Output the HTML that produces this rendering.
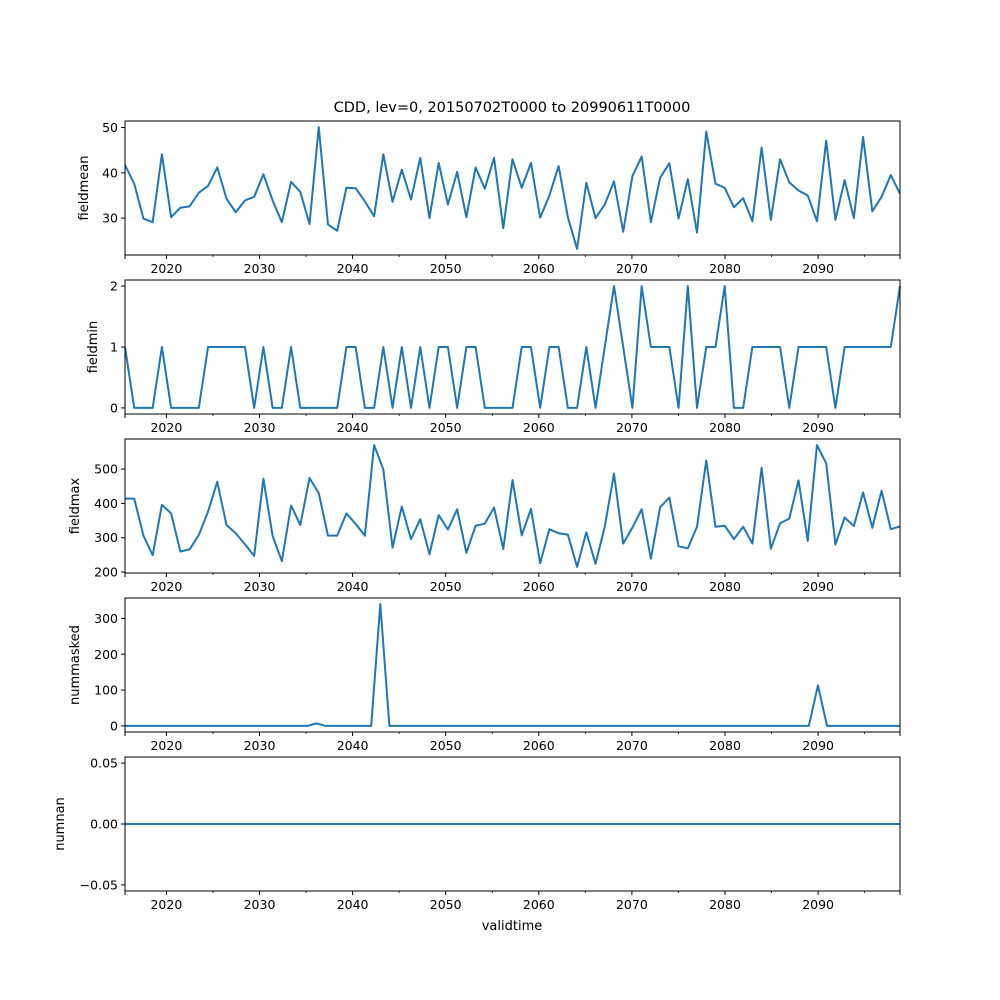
<!DOCTYPE html>
<html><head><meta charset="utf-8"><style>
html,body{margin:0;padding:0;background:#fff;width:1000px;height:1000px;overflow:hidden}
svg text{font-family:"DejaVu Sans","Liberation Sans",sans-serif;fill:#000}
</style></head><body>
<svg id="chart" width="1000" height="1000" xmlns="http://www.w3.org/2000/svg">
<text x="512" y="112" font-size="14.5" text-anchor="middle">CDD, lev=0, 20150702T0000 to 20990611T0000</text>
<text x="512" y="930" font-size="13" text-anchor="middle">validtime</text>
</svg>
<script>
const fieldmean=[41.7,37.6,29.9,29.1,44.1,30.2,32.3,32.6,35.6,37.1,41.2,34.3,31.3,33.9,34.7,39.7,33.9,29.1,38.0,35.8,28.7,50.1,28.6,27.2,36.7,36.6,33.7,30.4,44.1,33.6,40.7,34.1,43.3,30.0,42.2,33.0,40.2,30.2,41.2,36.5,43.3,27.8,43.0,36.7,42.2,30.1,35.0,41.5,30.2,23.2,37.8,30.0,33.0,38.1,27.0,39.3,43.6,29.1,38.9,42.1,29.9,38.6,26.8,49.1,37.6,36.7,32.4,34.4,29.3,45.6,29.6,43.0,37.9,36.1,35.0,29.3,47.1,29.6,38.4,30.0,47.9,31.5,34.7,39.5,35.4];
const fieldmin=[1,0,0,0,1,0,0,0,0,1,1,1,1,1,0,1,0,0,1,0,0,0,0,0,1,1,0,0,1,0,1,0,1,0,1,1,0,1,1,0,0,0,0,1,1,0,1,1,0,0,1,0,1,2,1,0,2,1,1,1,0,2,0,1,1,2,0,0,1,1,1,1,0,1,1,1,1,0,1,1,1,1,1,1,2];
const fieldmax=[414,414,306,249,396,371,260,266,308,376,463,337,313,281,247,472,305,232,394,337,474,430,306,306,371,340,306,570,499,271,391,296,354,252,366,324,383,256,335,341,388,267,468,307,384,226,325,313,309,215,316,224,332,487,283,330,383,239,389,417,275,269,332,525,332,335,296,332,283,504,268,342,356,467,291,570,517,280,359,334,432,329,437,325,333];
const nummasked=[0,0,0,0,0,0,0,0,0,0,0,0,0,0,0,0,0,0,0,0,0,7,0,0,0,0,0,0,340,0,0,0,0,0,0,0,0,0,0,0,0,0,0,0,0,0,0,0,0,0,0,0,0,0,0,0,0,0,0,0,0,0,0,0,0,0,0,0,0,0,0,0,0,0,0,0,113,0,0,0,0,0,0,0,0,0];
const numnan=new Array(85).fill(0);
const xTickYears=[2020,2030,2040,2050,2060,2070,2080,2090];
const xMinorYears=[2025,2035,2045,2055,2065,2075,2085,2095];
const ticksMean=[30,40,50], ticksMin=[0,1,2], ticksMax=[200,300,400,500], ticksMasked=[0,100,200,300], ticksNan=[-0.05,0,0.05];
const labelsNan=["\u22120.05","0.00","0.05"];

const svg=document.getElementById('chart');
const NS='http://www.w3.org/2000/svg';
const L=125,W=775,H=134;
function mk(tag,attrs){const e=document.createElementNS(NS,tag);for(const k in attrs)e.setAttribute(k,attrs[k]);svg.appendChild(e);return e;}
function xIdx(i,n){return L+i*W/(n-1);}
function xYear(y){return 166.4+(y-2020)*9.31;}
function panel(key,top,data,ticks,tickLabels,label,labelX,lims){
  let lo,hi;
  if(lims){lo=lims[0];hi=lims[1];}else{const mn=Math.min(...data),mx=Math.max(...data);const m=(mx-mn)*0.05;lo=mn-m;hi=mx+m;}
  const yv=v=>top+H-(v-lo)/(hi-lo)*H;
  const g=mk('g',{});
  
  
  const pts=data.map((v,i)=>xIdx(i,data.length).toFixed(2)+','+yv(v).toFixed(2)).join(' ');
  const line=mk('polyline',{points:pts,fill:'none',stroke:'#1f77b4','stroke-width':2,'stroke-linejoin':'round'});
  
  
  const fr=mk('rect',{x:L,y:top,width:W,height:H,fill:'none',stroke:'#000','stroke-width':1});
  
  
  ticks.forEach((t,j)=>{
    const y=yv(t);
    mk('line',{x1:L-4,x2:L,y1:y,y2:y,stroke:'#000','stroke-width':1});
    const tx=mk('text',{x:L-7,y:y+4.5,'font-size':12.5,'text-anchor':'end'});
    
    
    tx.textContent=tickLabels?tickLabels[j]:String(t);
  });
  xTickYears.forEach(yr=>{
    const x=xYear(yr);
    mk('line',{x1:x,x2:x,y1:top+H,y2:top+H+4,stroke:'#000','stroke-width':1});
    const tx=mk('text',{x:x,y:top+H+18,'font-size':12.5,'text-anchor':'middle'});
    
    
    tx.textContent=String(yr);
  });
  xMinorYears.forEach(yr=>{const x=xYear(yr);mk('line',{x1:x,x2:x,y1:top+H,y2:top+H+2,stroke:'#000','stroke-width':0.8});});
  mk('line',{x1:L,x2:L,y1:top+H,y2:top+H+4,stroke:'#000','stroke-width':1});
  mk('line',{x1:L+W,x2:L+W,y1:top+H,y2:top+H+4,stroke:'#000','stroke-width':1});
  const cy=top+H/2;
  const yl=mk('text',{x:labelX,y:cy,'font-size':13,'text-anchor':'middle',transform:'rotate(-90 '+labelX+' '+cy+')'});
  
  
  yl.textContent=label;
}
panel('fieldmean',121,fieldmean,ticksMean,null,'fieldmean',88,null);
panel('fieldmin',280,fieldmin,ticksMin,null,'fieldmin',97,null);
panel('fieldmax',439,fieldmax,ticksMax,null,'fieldmax',79,null);
panel('nummasked',598,nummasked,ticksMasked,null,'nummasked',79,null);
panel('numnan',757,numnan,ticksNan,labelsNan,'numnan',64,[-0.055,0.055]);
</script>
</body></html>
